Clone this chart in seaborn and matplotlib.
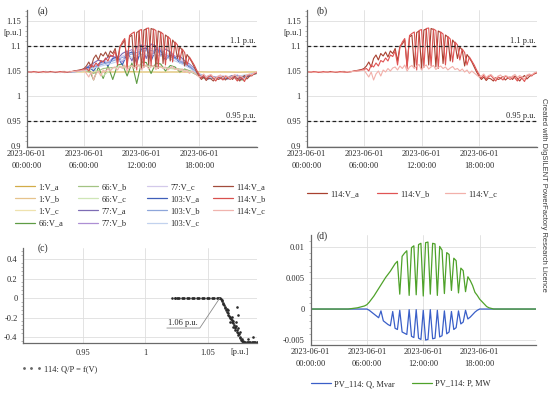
import numpy as np
import pandas as pd
import matplotlib
matplotlib.use('Agg')
import matplotlib.pyplot as plt
from matplotlib.lines import Line2D
from matplotlib.ticker import AutoMinorLocator
import seaborn as sns

# ---------------- data ----------------
# panel (a)/(b): bus voltages in p.u., evenly spaced over 00:00 .. 24:00
v1_a = [1.048, 1.048, 1.047, 1.048, 1.048, 1.048, 1.049, 1.048, 1.048, 1.048, 1.048, 1.049, 1.048,
        1.048, 1.048, 1.048, 1.048, 1.047, 1.048, 1.048, 1.048, 1.048, 1.048, 1.048, 1.048]
v1_b = [1.048, 1.047, 1.048, 1.048, 1.049, 1.048, 1.048, 1.048, 1.047, 1.048, 1.048, 1.048, 1.048,
        1.049, 1.048, 1.048, 1.047, 1.048, 1.048, 1.048, 1.049, 1.048, 1.048, 1.047, 1.048]
v1_c = [1.047, 1.048, 1.048, 1.048, 1.048, 1.047, 1.048, 1.049, 1.048, 1.048, 1.048, 1.047, 1.048,
        1.048, 1.049, 1.048, 1.048, 1.048, 1.047, 1.048, 1.048, 1.048, 1.049, 1.048, 1.048]
v66_a = [1.048, 1.048, 1.047, 1.048, 1.048, 1.049, 1.048, 1.048, 1.047, 1.048, 1.049,
         1.050, 1.052, 1.055, 1.032, 1.058, 1.035, 1.060, 1.033, 1.062, 1.064, 1.040, 1.066,
         1.025, 1.068, 1.067, 1.045, 1.066, 1.064, 1.050, 1.061, 1.058, 1.048, 1.054, 1.050,
         1.045, 1.040, 1.036, 1.039, 1.035, 1.038, 1.034, 1.037, 1.040, 1.035, 1.032, 1.038,
         1.042, 1.045]
v66_b = [1.048, 1.048, 1.047, 1.048, 1.048, 1.049, 1.052, 1.045, 1.055, 1.057, 1.058, 1.060, 1.061,
         1.060, 1.058, 1.056, 1.054, 1.051, 1.042, 1.038, 1.036, 1.039, 1.037, 1.041, 1.045]
v66_c = [1.047, 1.048, 1.048, 1.048, 1.047, 1.048, 1.051, 1.054, 1.040, 1.056, 1.058, 1.059, 1.060,
         1.059, 1.057, 1.055, 1.052, 1.049, 1.043, 1.037, 1.039, 1.035, 1.040, 1.042, 1.046]
v77_a = [1.048, 1.048, 1.047, 1.048, 1.049, 1.048, 1.048, 1.047, 1.048, 1.048, 1.049,
         1.050, 1.053, 1.060, 1.066, 1.072, 1.068, 1.078, 1.080, 1.074, 1.085, 1.090, 1.070,
         1.098, 1.102, 1.075, 1.104, 1.100, 1.080, 1.094, 1.088, 1.078, 1.080, 1.070, 1.064,
         1.055, 1.042, 1.037, 1.040, 1.036, 1.039, 1.034, 1.038, 1.041, 1.036, 1.033, 1.039,
         1.043, 1.046]
v77_b = [1.048, 1.047, 1.048, 1.048, 1.049, 1.048, 1.047, 1.048, 1.048, 1.049, 1.048,
         1.050, 1.052, 1.057, 1.062, 1.058, 1.070, 1.066, 1.076, 1.080, 1.068, 1.088, 1.093,
         1.072, 1.099, 1.101, 1.078, 1.098, 1.094, 1.076, 1.086, 1.080, 1.070, 1.068, 1.060,
         1.052, 1.044, 1.038, 1.035, 1.039, 1.036, 1.040, 1.035, 1.038, 1.042, 1.036, 1.040,
         1.044, 1.047]
v77_c = [1.048, 1.047, 1.048, 1.048, 1.048, 1.049, 1.052, 1.060, 1.066, 1.072, 1.080, 1.088, 1.094,
         1.095, 1.090, 1.082, 1.074, 1.062, 1.045, 1.036, 1.039, 1.035, 1.038, 1.042, 1.046]
v103_a = [1.048, 1.048, 1.047, 1.048, 1.049, 1.048, 1.048, 1.047, 1.048, 1.048, 1.049,
          1.050, 1.053, 1.058, 1.050, 1.064, 1.070, 1.060, 1.075, 1.078, 1.062, 1.084, 1.088,
          1.066, 1.094, 1.096, 1.070, 1.094, 1.090, 1.072, 1.082, 1.077, 1.066, 1.066, 1.058,
          1.050, 1.043, 1.037, 1.034, 1.038, 1.035, 1.039, 1.034, 1.037, 1.041, 1.035, 1.039,
          1.043, 1.046]
v103_b = [1.048, 1.048, 1.048, 1.047, 1.048, 1.049, 1.052, 1.058, 1.064, 1.070, 1.077, 1.084, 1.090,
          1.091, 1.086, 1.079, 1.070, 1.060, 1.044, 1.037, 1.035, 1.039, 1.036, 1.041, 1.045]
v103_c = [1.047, 1.048, 1.048, 1.048, 1.048, 1.048, 1.051, 1.056, 1.061, 1.066, 1.072, 1.078, 1.083,
          1.084, 1.080, 1.074, 1.066, 1.056, 1.043, 1.038, 1.036, 1.038, 1.040, 1.042, 1.046]
v114_a = [1.048, 1.048, 1.047, 1.048, 1.049, 1.048, 1.047, 1.047, 1.048, 1.048, 1.049, 1.048, 1.048,
          1.047, 1.048, 1.049, 1.049, 1.048, 1.048, 1.049, 1.050,
          1.051, 1.052, 1.053, 1.055, 1.060, 1.068, 1.058, 1.075, 1.082, 1.072, 1.085, 1.080,
          1.088, 1.078, 1.090, 1.085, 1.095, 1.070, 1.100, 1.104, 1.112, 1.060, 1.118, 1.122,
          1.058, 1.127, 1.130, 1.055, 1.132, 1.134, 1.062, 1.135, 1.133, 1.058, 1.130, 1.127,
          1.065, 1.122, 1.118, 1.070, 1.112, 1.105, 1.075, 1.098, 1.092, 1.060, 1.083, 1.076,
          1.068, 1.058, 1.048, 1.040, 1.033, 1.038, 1.031, 1.036, 1.034, 1.030, 1.037, 1.033,
          1.035, 1.039, 1.032, 1.036, 1.038, 1.033, 1.040, 1.035, 1.030, 1.037, 1.041, 1.034,
          1.039, 1.042, 1.044, 1.046]
v114_b = [1.049, 1.048, 1.048, 1.049, 1.048, 1.047, 1.048, 1.049, 1.048, 1.047, 1.048, 1.049, 1.048,
          1.048, 1.049, 1.048, 1.047, 1.048, 1.049, 1.049, 1.050,
          1.050, 1.051, 1.052, 1.053, 1.055, 1.050, 1.062, 1.058, 1.066, 1.060, 1.071, 1.068,
          1.076, 1.070, 1.082, 1.079, 1.090, 1.062, 1.097, 1.108, 1.115, 1.055, 1.121, 1.125,
          1.128, 1.052, 1.131, 1.133, 1.057, 1.135, 1.136, 1.060, 1.134, 1.131, 1.055, 1.128,
          1.124, 1.062, 1.119, 1.114, 1.068, 1.108, 1.102, 1.072, 1.094, 1.087, 1.062, 1.078,
          1.070, 1.062, 1.052, 1.043, 1.036, 1.042, 1.034, 1.039, 1.041, 1.035, 1.030, 1.038,
          1.036, 1.032, 1.040, 1.037, 1.033, 1.039, 1.036, 1.030, 1.038, 1.035, 1.029, 1.040,
          1.043, 1.040, 1.045, 1.047]
v114_c = [1.047, 1.048, 1.048, 1.047, 1.048, 1.049, 1.048, 1.047, 1.048, 1.048, 1.047, 1.048, 1.049,
          1.048, 1.047, 1.048, 1.048, 1.049, 1.048, 1.049, 1.049,
          1.050, 1.050, 1.051, 1.052, 1.045, 1.038, 1.048, 1.032, 1.044, 1.050, 1.040, 1.052,
          1.048, 1.055, 1.050, 1.056, 1.058, 1.052, 1.060, 1.055, 1.062, 1.050, 1.058, 1.061,
          1.055, 1.060, 1.063, 1.052, 1.059, 1.062, 1.054, 1.058, 1.061, 1.053, 1.057, 1.060,
          1.055, 1.058, 1.052, 1.056, 1.059, 1.053, 1.055, 1.050, 1.054, 1.048, 1.052, 1.045,
          1.050, 1.046, 1.042, 1.038, 1.040, 1.044, 1.037, 1.041, 1.043, 1.038, 1.035, 1.040,
          1.042, 1.036, 1.041, 1.039, 1.035, 1.040, 1.043, 1.037, 1.041, 1.038, 1.034, 1.042,
          1.044, 1.042, 1.046, 1.048]

names_a = ['1:V_a', '1:V_b', '1:V_c', '66:V_a', '66:V_b', '66:V_c', '77:V_a', '77:V_b', '77:V_c',
           '103:V_a', '103:V_b', '103:V_c', '114:V_a', '114:V_b', '114:V_c']
values_a = [v1_a, v1_b, v1_c, v66_a, v66_b, v66_c, v77_a, v77_b, v77_c,
            v103_a, v103_b, v103_c, v114_a, v114_b, v114_c]
colors_a = ['#d2ac48', '#e6c38c', '#efe2ae', '#5f9c45', '#a3c383', '#cfe6b6', '#7d6cb4', '#ad8fd4',
            '#d3c9ea', '#3f5fb9', '#8ea6da', '#c2d2ee', '#a24c3c', '#d9504e', '#f0b4ae']
names_b = ['114:V_a', '114:V_b', '114:V_c']
colors_b = ['#a8402f', '#e05454', '#f2b0aa']

# panel (c): reactive power ratio vs voltage
qp_v = [1.021, 1.0235, 1.024, 1.025, 1.026, 1.027, 1.029, 1.030, 1.031, 1.033, 1.034, 1.035, 1.037,
        1.038, 1.039, 1.041, 1.042, 1.043, 1.045, 1.046, 1.047, 1.049, 1.050, 1.051, 1.053, 1.054,
        1.055, 1.057, 1.058, 1.059, 1.060,
        1.0605, 1.061, 1.0615, 1.062, 1.0625, 1.063, 1.0635, 1.064, 1.0645, 1.065, 1.0655, 1.066,
        1.0665, 1.067, 1.0675, 1.068, 1.0685, 1.069, 1.0695, 1.070, 1.0705, 1.071, 1.0715, 1.072,
        1.0725, 1.073, 1.0735, 1.074, 1.0745, 1.075, 1.0755, 1.076, 1.0765, 1.077, 1.0775, 1.078,
        1.0785, 1.079, 1.080, 1.081, 1.082, 1.083, 1.084, 1.085, 1.086, 1.087, 1.088, 1.089,
        1.0665, 1.069, 1.0715, 1.074, 1.0725, 1.0755, 1.0734, 1.0745, 1.086, 1.082, 1.0705, 1.068]
qp_q = [0, 0, 0, 0, 0, 0, 0, 0, 0, 0, 0, 0, 0,
        0, 0, 0, 0, 0, 0, 0, 0, 0, 0, 0, 0, 0,
        0, 0, 0, 0, 0,
        -0.01, -0.03, -0.02, -0.05, -0.06, -0.07, -0.09, -0.10, -0.12, -0.11, -0.14, -0.15,
        -0.17, -0.18, -0.19, -0.21, -0.22, -0.23, -0.25, -0.26, -0.24, -0.28, -0.30, -0.31,
        -0.29, -0.33, -0.35, -0.36, -0.38, -0.37, -0.40, -0.41, -0.43, -0.42, -0.44, -0.45,
        -0.44, -0.45, -0.45, -0.45, -0.45, -0.45, -0.45, -0.45, -0.45, -0.45, -0.45, -0.45,
        -0.12, -0.19, -0.33, -0.31, -0.25, -0.35, -0.095, -0.17, -0.40, -0.42, -0.30, -0.25]

# panel (d): PV_114 active / reactive power, 15-minute steps over 00:00 .. 24:00
pv_p = [0, 0, 0, 0, 0, 0, 0, 0, 0, 0, 0, 0, 0, 0, 0, 0, 0,
        0.00005, 0.0001, 0.00015, 0.0002, 0.0003, 0.0004, 0.0005, 0.0007,
        0.0011, 0.0016, 0.0021, 0.0027, 0.0033, 0.0039, 0.0045, 0.0051,
        0.0056, 0.0061, 0.0067, 0.0073, 0.0077, 0.0024, 0.0085, 0.0090,
        0.0094, 0.0022, 0.0099, 0.0102, 0.0023, 0.0104, 0.0106, 0.0021,
        0.0107, 0.0108, 0.0024, 0.0106, 0.0105, 0.0022, 0.0101, 0.0095,
        0.0025, 0.0091, 0.0088, 0.0030, 0.0082, 0.0078, 0.0026, 0.0066,
        0.0062, 0.0028, 0.0052, 0.0046, 0.0038, 0.0027, 0.0022, 0.0016,
        0.0012, 0.0008, 0.0004, 0.0002,
        0.0001, 0, 0, 0, 0, 0, 0, 0, 0, 0, 0, 0, 0, 0, 0, 0, 0, 0, 0, 0]
pv_q = [0, 0, 0, 0, 0, 0, 0, 0, 0, 0, 0, 0, 0, 0, 0, 0, 0, 0, 0, 0, 0, 0, 0, 0, 0,
        -0.0002, -0.0005, -0.0008, -0.0011, -0.0014, -0.0003, -0.0019, -0.0022,
        -0.0025, -0.0027, -0.0004, -0.0031, -0.0033, -0.0002, -0.0037, -0.0039,
        -0.0041, -0.0001, -0.0044, -0.0046, -0.0001, -0.0047, -0.0049, -0.0002,
        -0.0050, -0.0049, -0.0001, -0.0048, -0.0047, -0.0002, -0.0045, -0.0043,
        -0.0003, -0.0040, -0.0037, -0.0004, -0.0033, -0.0030, -0.0003, -0.0024,
        -0.0021, -0.0002, -0.0016, -0.0013, -0.0009, -0.0005, -0.0002, 0,
        0, 0, 0, 0, 0, 0, 0, 0, 0, 0, 0, 0, 0, 0, 0, 0, 0, 0, 0, 0, 0, 0, 0, 0]
names_d = ['PV_114: Q, Mvar', 'PV_114: P, MW']
colors_d = ['#3a5fc8', '#4fa22a']

time_ticks = [0, 6, 12, 18]
time_labels = ['2023-06-01\n00:00:00', '2023-06-01\n06:00:00',
               '2023-06-01\n12:00:00', '2023-06-01\n18:00:00']
volt_ticks = [0.9, 0.95, 1.0, 1.05, 1.1, 1.15]
volt_labels = ['0.9', '0.95', '1', '1.05', '1.1', '1.15']


def long_frame(names, series):
    parts = []
    for n, vals in zip(names, series):
        hrs = np.linspace(0, 24, len(vals))
        parts.append(pd.DataFrame({'hour': hrs, 'value': vals, 'series': n}))
    return pd.concat(parts, ignore_index=True)


df_a = long_frame(names_a, values_a)
df_b = long_frame(names_b, [v114_a, v114_b, v114_c])
df_d = long_frame(names_d, [pv_q, pv_p])
df_c = pd.DataFrame({'V': qp_v, 'QP': qp_q})

# ---------------- style ----------------
sns.set_theme(style='white')
plt.rcParams['font.family'] = ['Liberation Serif', 'DejaVu Serif']
plt.rcParams['axes.unicode_minus'] = False
FS = 6.0
TXT = '#2a2a2a'

W, H = 550, 393
fig = plt.figure(figsize=(5.5, 3.93), dpi=100)


def fx(x):
    return x / W


def fy(y):
    return 1 - y / H


def add_axes(l, t, r, b):
    return fig.add_axes([fx(l), fy(b), (r - l) / W, (b - t) / H])


def style(ax):
    for s in ['top', 'right']:
        ax.spines[s].set_visible(False)
    for s in ['left', 'bottom']:
        ax.spines[s].set_color('#6a6a6a')
        ax.spines[s].set_linewidth(0.9)
    ax.grid(True, color='#dedede', lw=0.6)
    ax.set_axisbelow(True)
    ax.tick_params(axis='both', labelsize=FS, labelcolor=TXT, length=0, pad=2.5)
    ax.tick_params(axis='y', which='major', length=2.5, width=0.6, color='#7a7a7a', pad=1.5)
    ax.yaxis.set_minor_locator(AutoMinorLocator(5))
    ax.tick_params(axis='y', which='minor', length=1.3, width=0.5, color='#9a9a9a', left=True)
    ax.set_xlabel('')
    ax.set_ylabel('')


def time_axis(ax):
    ax.set_xlim(0, 24)
    ax.set_xticks(time_ticks, time_labels)
    for lab in ax.get_xticklabels():
        lab.set_linespacing(1.55)


def volt_axis(ax):
    ax.set_ylim(0.898, 1.172)
    ax.set_yticks(volt_ticks, volt_labels)
    ax.axhline(1.1, color='#222222', lw=0.9, ls=(0, (3, 2)))
    ax.axhline(0.95, color='#222222', lw=0.9, ls=(0, (3, 2)))
    ax.text(0.995, 1.103, '1.1 p.u.', transform=ax.get_yaxis_transform(), ha='right', va='bottom',
            fontsize=FS, color=TXT)
    ax.text(0.995, 0.953, '0.95 p.u.', transform=ax.get_yaxis_transform(), ha='right', va='bottom',
            fontsize=FS, color=TXT)


# ---------------- panel (a) ----------------
axA = add_axes(26.5, 10, 256.5, 147)
sns.lineplot(data=df_a, x='hour', y='value', hue='series', hue_order=names_a,
             palette=dict(zip(names_a, colors_a)), estimator=None, sort=False,
             lw=0.8, legend=False, ax=axA)
style(axA)
time_axis(axA)
volt_axis(axA)

# ---------------- panel (b) ----------------
axB = add_axes(306.5, 10, 536.5, 147)
sns.lineplot(data=df_b, x='hour', y='value', hue='series', hue_order=names_b,
             palette=dict(zip(names_b, colors_b)), estimator=None, sort=False,
             lw=0.8, legend=False, ax=axB)
style(axB)
time_axis(axB)
volt_axis(axB)

# ---------------- panel (c) ----------------
axC = add_axes(23, 248, 257, 343)
sns.scatterplot(data=df_c, x='V', y='QP', ax=axC, s=3.5, color='#2a2a2a', marker='o',
                linewidth=0, legend=False)
style(axC)
axC.tick_params(axis='x', pad=4)
axC.set_xlim(0.902, 1.0894)
axC.set_ylim(-0.4615, 0.513)
axC.set_xticks([0.95, 1.0, 1.05], ['0.95', '1', '1.05'])
axC.set_yticks([-0.4, -0.2, 0, 0.2, 0.4], ['-0.4', '-0.2', '0', '0.2', '0.4'])
axC.plot([1.0172, 1.0436, 1.0596], [-0.308, -0.308, 0.0], color='#8a8a8a', lw=0.6)
axC.text(1.0185, -0.300, '1.06 p.u.', fontsize=FS, color=TXT, ha='left', va='bottom')
axC.text(0.925, -0.0925, '[p.u.]', fontsize=FS, color=TXT, ha='center', va='center',
         transform=axC.transAxes)

# ---------------- panel (d) ----------------
axD = add_axes(310.5, 235, 536, 345)
sns.lineplot(data=df_d, x='hour', y='value', hue='series', hue_order=names_d,
             palette=dict(zip(names_d, colors_d)), estimator=None, sort=False,
             lw=0.9, legend=False, ax=axD)
style(axD)
time_axis(axD)
axD.set_ylim(-0.0058, 0.01194)
axD.set_yticks([-0.005, 0, 0.005, 0.01], ['-0.005', '0', '0.005', '0.01'])

# ---------------- texts ----------------
for lab, (x, y) in {'(a)': (43, 11), '(b)': (322, 11), '(c)': (43, 248), '(d)': (322, 236)}.items():
    fig.text(fx(x), fy(y), lab, fontsize=7, color=TXT, ha='center', va='center')
fig.text(fx(13), fy(33), '[p.u.]', fontsize=FS, color=TXT, ha='center', va='center')
fig.text(fx(293), fy(33), '[p.u.]', fontsize=FS, color=TXT, ha='center', va='center')
fig.text(fx(543), fy(195), 'Created with DIgSILENT PowerFactory Research Licence', rotation=-90,
         fontsize=5.4, color='#3a3a3a', ha='center', va='center',
         family=['Liberation Sans', 'DejaVu Sans'])

# ---------------- legends ----------------
leg_kw = dict(loc='upper left', frameon=False, borderpad=0, borderaxespad=0, handlelength=2.4,
              handletextpad=0.4, labelspacing=0.5, fontsize=FS, labelcolor=TXT)
handles_a = [Line2D([], [], color=c, lw=0.9) for c in colors_a]
col_x = [15, 78, 147, 213]
for j, x0 in enumerate(col_x):
    fig.legend(handles_a[4 * j:4 * j + 4], names_a[4 * j:4 * j + 4],
               bbox_to_anchor=(fx(x0), fy(183)), **leg_kw)

handles_b = [Line2D([], [], color=c, lw=0.9) for c in colors_b]
for j, x0 in enumerate([307, 377, 445]):
    fig.legend([handles_b[j]], [names_b[j]], bbox_to_anchor=(fx(x0), fy(190)), **leg_kw)

fig.legend([Line2D([], [], ls='none', marker='o', markersize=1.0, color='#666666')],
           ['114: Q/P = f(V)'], numpoints=3, bbox_to_anchor=(fx(21), fy(365)), **leg_kw)

handles_d = [Line2D([], [], color=c, lw=0.9) for c in colors_d]
for j, x0 in enumerate([311, 412]):
    fig.legend([handles_d[j]], [names_d[j]], bbox_to_anchor=(fx(x0), fy(380)), **leg_kw)

fig.savefig('out.png', dpi=100)
